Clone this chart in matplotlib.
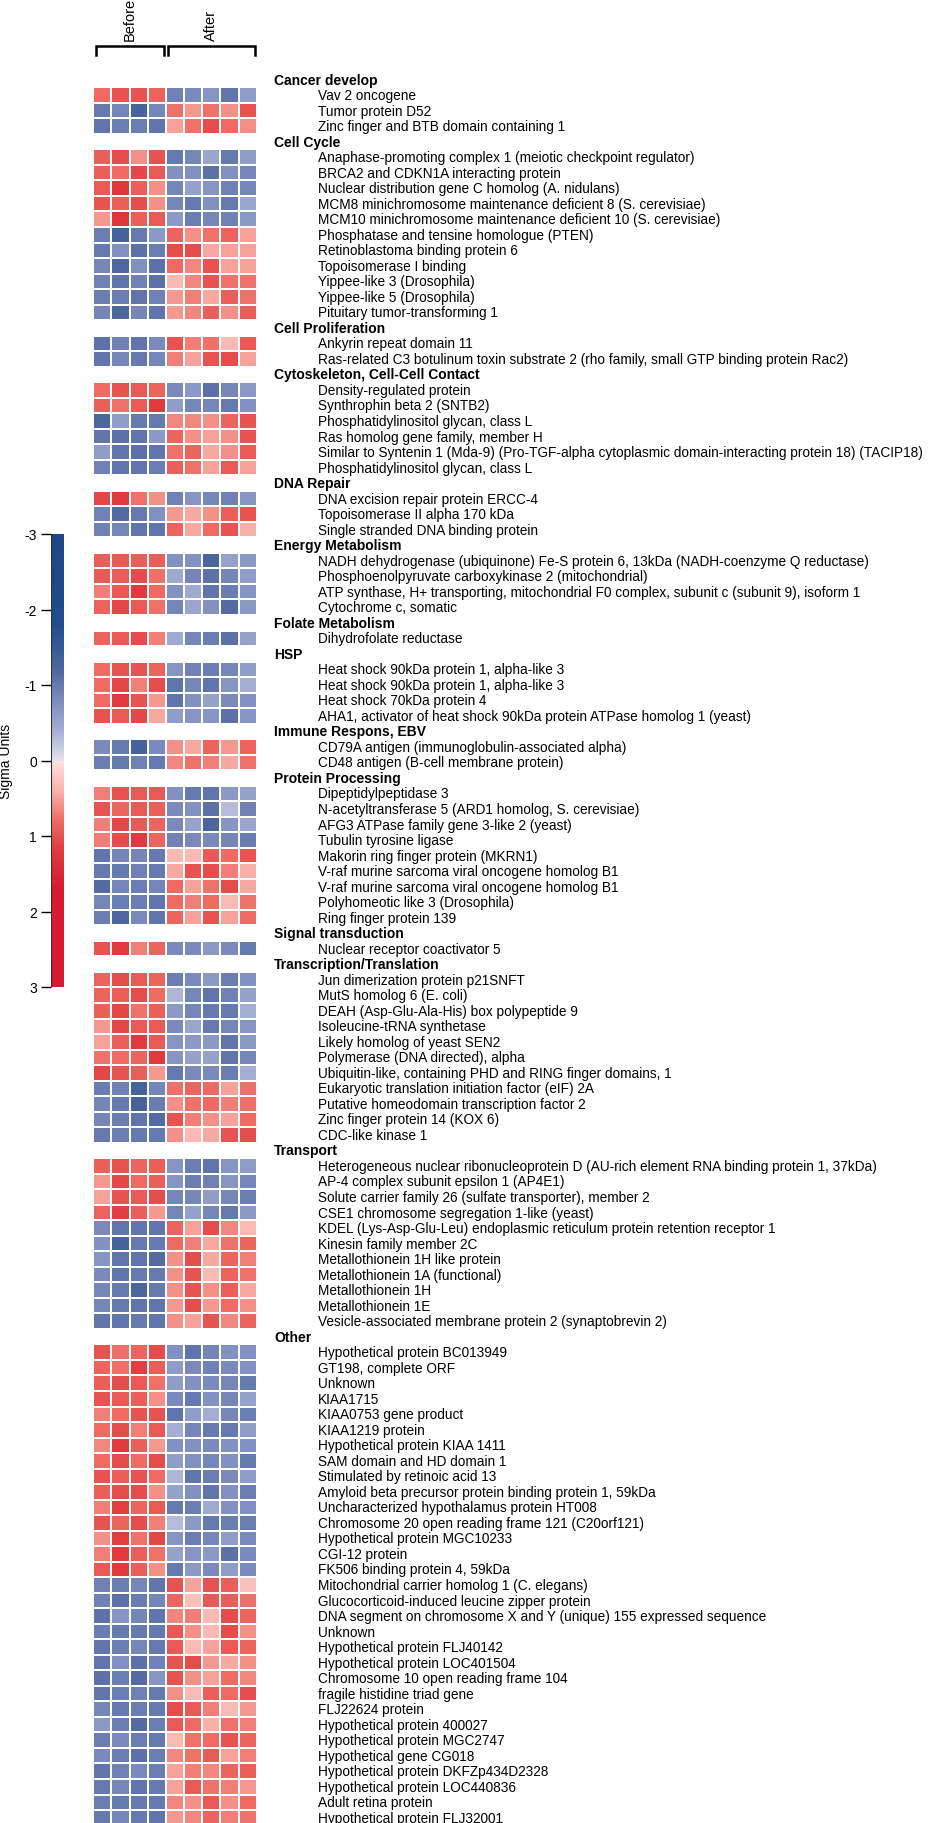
import matplotlib
matplotlib.use("Agg")
import matplotlib.pyplot as plt
import numpy as np
from matplotlib.colors import LinearSegmentedColormap, Normalize
from matplotlib.transforms import blended_transform_factory
from matplotlib.lines import Line2D
import matplotlib.cm as cm

plt.rcParams['font.family'] = ['Liberation Sans', 'DejaVu Sans']

# columns: 4 samples before, 5 after
n_before = 4
n_after = 5

categories = ["Cancer develop", "Cell Cycle", "Cell Proliferation",
              "Cytoskeleton, Cell-Cell Contact", "DNA Repair", "Energy Metabolism",
              "Folate Metabolism", "HSP", "Immune Respons, EBV", "Protein Processing",
              "Signal transduction", "Transcription/Translation", "Transport", "Other"]

cancer_genes = ["Vav 2 oncogene", "Tumor protein D52", "Zinc finger and BTB domain containing 1"]
cancer_vals = [
    [0.8, 1.0, 1.0, 0.85, -0.9, -0.8, -0.7, -1.05, -0.6],
    [-1.0, -0.85, -1.3, -0.85, 0.75, 0.55, 0.75, 0.6, 1.0],
    [-1.05, -0.95, -0.95, -1.05, 0.5, 0.75, 1.05, 0.8, 0.6]]

cycle_genes = ["Anaphase-promoting complex 1 (meiotic checkpoint regulator)",
               "BRCA2 and CDKN1A interacting protein",
               "Nuclear distribution gene C homolog (A. nidulans)",
               "MCM8 minichromosome maintenance deficient 8 (S. cerevisiae)",
               "MCM10 minichromosome maintenance deficient 10 (S. cerevisiae)",
               "Phosphatase and tensine homologue (PTEN)",
               "Retinoblastoma binding protein 6",
               "Topoisomerase I binding",
               "Yippee-like 3 (Drosophila)",
               "Yippee-like 5 (Drosophila)",
               "Pituitary tumor-transforming 1"]
cycle_vals = [
    [0.9, 1.05, 0.6, 1.0, -1.0, -0.85, -0.5, -1.0, -0.6],
    [0.9, 0.8, 1.1, 0.95, -0.75, -0.75, -1.1, -0.75, -0.85],
    [0.95, 1.25, 0.9, 0.6, -0.85, -0.55, -0.7, -0.9, -0.85],
    [1.0, 0.9, 1.05, 0.6, -0.85, -1.0, -0.75, -1.0, -0.5],
    [0.55, 1.25, 0.9, 0.95, -0.65, -0.95, -0.85, -0.9, -0.65],
    [-0.95, -1.3, -1.0, -0.65, 0.85, 0.6, 0.75, 0.85, 0.5],
    [-1.0, -0.75, -1.1, -0.95, 1.05, 1.05, 0.45, 0.5, 0.5],
    [-0.85, -1.2, -0.75, -1.1, 0.8, 0.65, 1.0, 0.5, 0.5],
    [-0.9, -1.05, -0.9, -1.1, 0.35, 0.65, 1.0, 0.75, 0.75],
    [-0.95, -0.95, -1.05, -0.9, 0.55, 0.7, 0.45, 0.9, 0.75],
    [-0.85, -1.2, -0.85, -1.05, 0.55, 0.65, 0.9, 0.6, 0.9]]

prolif_genes = ["Ankyrin repeat domain 11",
                "Ras-related C3 botulinum toxin substrate 2 (rho family, small GTP binding protein Rac2)"]
prolif_vals = [
    [-1.1, -0.9, -1.05, -0.8, 1.0, 0.7, 0.75, 0.35, 0.95],
    [-1.05, -0.85, -1.0, -0.85, 0.7, 0.5, 1.0, 1.05, 0.5]]

cyto_genes = ["Density-regulated protein", "Synthrophin beta 2 (SNTB2)",
              "Phosphatidylinositol glycan, class L", "Ras homolog gene family, member H",
              "Similar to Syntenin 1 (Mda-9) (Pro-TGF-alpha cytoplasmic domain-interacting protein 18) (TACIP18)",
              "Phosphatidylinositol glycan, class L"]
cyto_vals = [
    [0.8, 1.0, 0.95, 0.85, -0.8, -0.65, -1.1, -0.85, -0.65],
    [0.9, 0.75, 0.95, 1.2, -0.6, -0.85, -0.85, -1.0, -0.75],
    [-1.25, -0.6, -1.0, -1.0, 0.65, 0.65, 0.6, 0.85, 1.0],
    [-1.05, -1.1, -1.05, -0.65, 0.85, 0.6, 0.5, 0.6, 1.0],
    [-0.6, -1.05, -1.1, -1.05, 0.75, 0.85, 0.45, 0.6, 0.95],
    [-0.9, -1.05, -1.05, -0.95, 0.9, 0.75, 0.5, 0.95, 0.5]]

dna_genes = ["DNA excision repair protein ERCC-4", "Topoisomerase II alpha 170 kDa",
             "Single stranded DNA binding protein"]
dna_vals = [
    [1.1, 1.2, 0.75, 0.6, -0.9, -0.7, -0.85, -0.9, -0.7],
    [-0.9, -1.15, -1.0, -0.75, 0.55, 0.45, 0.6, 0.9, 1.0],
    [-0.9, -0.85, -1.05, -1.05, 0.85, 0.45, 0.8, 1.0, 0.4]]

energy_genes = ["NADH dehydrogenase (ubiquinone) Fe-S protein 6, 13kDa (NADH-coenzyme Q reductase)",
                "Phosphoenolpyruvate carboxykinase 2 (mitochondrial)",
                "ATP synthase, H+ transporting, mitochondrial F0 complex, subunit c (subunit 9), isoform 1",
                "Cytochrome c, somatic"]
energy_vals = [
    [0.9, 0.95, 0.9, 0.9, -0.75, -0.75, -1.25, -0.55, -0.65],
    [0.95, 0.9, 1.05, 0.75, -0.45, -0.85, -1.1, -0.85, -0.6],
    [0.7, 0.95, 1.2, 0.8, -0.75, -0.45, -1.05, -0.95, -0.7],
    [0.85, 1.1, 0.95, 0.75, -0.85, -0.5, -0.75, -1.15, -0.65]]

folate_genes = ["Dihydrofolate reductase"]
folate_vals = [[0.85, 0.95, 1.05, 0.7, -0.45, -0.85, -0.95, -1.1, -0.55]]

hsp_genes = ["Heat shock 90kDa protein 1, alpha-like 3", "Heat shock 90kDa protein 1, alpha-like 3",
             "Heat shock 70kDa protein 4",
             "AHA1, activator of heat shock 90kDa protein ATPase homolog 1 (yeast)"]
hsp_vals = [
    [0.8, 1.0, 1.0, 0.85, -0.7, -0.9, -0.95, -0.85, -0.6],
    [0.8, 1.1, 0.7, 1.05, -1.05, -0.85, -1.05, -0.7, -0.4],
    [0.8, 1.2, 1.0, 0.55, -1.05, -0.75, -0.55, -0.8, -0.75],
    [1.0, 0.95, 1.1, 0.45, -0.6, -0.7, -0.7, -1.1, -0.7]]

immune_genes = ["CD79A antigen (immunoglobulin-associated alpha)",
                "CD48 antigen (B-cell membrane protein)"]
immune_vals = [
    [-0.8, -1.0, -1.3, -0.8, 0.6, 0.45, 0.85, 0.55, 0.85],
    [-0.95, -1.0, -0.9, -1.0, 0.65, 0.75, 0.7, 0.45, 0.75]]

protein_genes = ["Dipeptidylpeptidase 3", "N-acetyltransferase 5 (ARD1 homolog, S. cerevisiae)",
                 "AFG3 ATPase family gene 3-like 2 (yeast)", "Tubulin tyrosine ligase",
                 "Makorin ring finger protein (MKRN1)",
                 "V-raf murine sarcoma viral oncogene homolog B1",
                 "V-raf murine sarcoma viral oncogene homolog B1",
                 "Polyhomeotic like 3 (Drosophila)", "Ring finger protein 139"]
protein_vals = [
    [0.7, 1.0, 0.95, 0.95, -0.75, -1.0, -1.05, -0.65, -0.55],
    [1.0, 0.85, 0.95, 0.9, -0.8, -0.75, -1.1, -0.3, -0.9],
    [0.7, 1.1, 0.95, 0.85, -0.8, -0.55, -1.25, -0.7, -0.5],
    [0.7, 1.05, 1.2, 0.85, -0.9, -0.8, -0.8, -0.85, -0.95],
    [-1.05, -0.85, -0.85, -1.0, 0.35, 0.35, 0.95, 0.8, 1.0],
    [-1.0, -1.0, -0.9, -1.0, 0.45, 1.0, 1.05, 0.7, 0.4],
    [-1.15, -0.85, -0.95, -0.85, 0.8, 0.5, 0.75, 1.05, 0.45],
    [-0.85, -0.95, -0.95, -1.05, 0.8, 0.7, 0.8, 0.35, 0.75],
    [-0.95, -1.2, -0.8, -1.05, 0.85, 0.5, 1.0, 0.5, 0.8]]

signal_genes = ["Nuclear receptor coactivator 5"]
signal_vals = [[1.0, 1.2, 0.7, 0.85, -0.8, -0.8, -0.65, -0.8, -1.0]]

trans_genes = ["Jun dimerization protein p21SNFT", "MutS homolog 6 (E. coli)",
               "DEAH (Asp-Glu-Ala-His) box polypeptide 9", "Isoleucine-tRNA synthetase",
               "Likely homolog of yeast SEN2", "Polymerase (DNA directed), alpha",
               "Ubiquitin-like, containing PHD and RING finger domains, 1",
               "Eukaryotic translation initiation factor (eIF) 2A",
               "Putative homeodomain transcription factor 2",
               "Zinc finger protein 14 (KOX 6)", "CDC-like kinase 1"]
trans_vals = [
    [0.85, 1.05, 0.95, 0.85, -0.95, -0.8, -0.65, -0.95, -0.75],
    [0.85, 0.9, 1.05, 0.8, -0.35, -0.85, -1.05, -0.9, -0.55],
    [0.9, 1.1, 0.75, 0.9, -0.65, -0.85, -1.0, -1.0, -0.4],
    [0.55, 1.1, 0.95, 0.95, -0.8, -0.5, -1.0, -0.85, -0.7],
    [0.5, 0.9, 1.2, 0.95, -0.7, -0.65, -0.65, -1.05, -0.65],
    [0.75, 0.8, 0.85, 1.2, -0.7, -0.55, -0.55, -1.05, -0.85],
    [1.1, 1.0, 0.9, 0.55, -1.0, -0.8, -0.8, -0.95, -0.4],
    [-0.95, -0.9, -1.3, -0.85, 0.75, 0.85, 0.8, 0.5, 0.75],
    [-0.85, -1.0, -1.3, -0.95, 0.6, 0.75, 0.8, 0.7, 0.75],
    [-0.85, -0.95, -1.05, -1.15, 1.0, 0.7, 0.6, 0.5, 0.8],
    [-1.0, -0.95, -1.0, -1.0, 0.6, 0.35, 0.45, 1.0, 1.05]]

transport_genes = ["Heterogeneous nuclear ribonucleoprotein D (AU-rich element RNA binding protein 1, 37kDa)",
                   "AP-4 complex subunit epsilon 1 (AP4E1)",
                   "Solute carrier family 26 (sulfate transporter), member 2",
                   "CSE1 chromosome segregation 1-like (yeast)",
                   "KDEL (Lys-Asp-Glu-Leu) endoplasmic reticulum protein retention receptor 1",
                   "Kinesin family member 2C", "Metallothionein 1H like protein",
                   "Metallothionein 1A (functional)", "Metallothionein 1H", "Metallothionein 1E",
                   "Vesicle-associated membrane protein 2 (synaptobrevin 2)"]
transport_vals = [
    [0.9, 1.0, 0.85, 0.9, -0.7, -0.95, -1.05, -0.7, -0.6],
    [0.55, 1.1, 0.8, 0.9, -0.7, -0.95, -0.9, -0.7, -0.85],
    [0.5, 1.0, 0.95, 1.05, -0.85, -0.85, -0.6, -0.85, -0.95],
    [0.85, 1.15, 0.9, 0.55, -0.85, -0.55, -0.85, -1.0, -0.65],
    [-0.8, -1.05, -1.05, -1.05, 0.85, 0.5, 1.05, 0.65, 0.35],
    [-0.75, -1.3, -1.0, -1.0, 0.8, 0.7, 0.45, 0.75, 0.85],
    [-0.7, -1.05, -1.05, -1.15, 0.6, 1.05, 0.45, 0.85, 0.7],
    [-0.8, -1.05, -1.0, -1.0, 0.6, 1.0, 0.35, 0.85, 0.75],
    [-0.85, -1.0, -1.25, -1.0, 0.6, 1.0, 0.6, 0.9, 0.45],
    [-0.85, -1.0, -1.05, -1.05, 0.55, 1.05, 0.55, 0.8, 0.6],
    [-1.05, -1.05, -1.0, -1.05, 0.6, 0.5, 1.0, 0.65, 0.85]]

other_genes = ["Hypothetical protein BC013949", "GT198, complete ORF", "Unknown", "KIAA1715",
               "KIAA0753 gene product", "KIAA1219 protein", "Hypothetical protein KIAA 1411",
               "SAM domain and HD domain 1", "Stimulated by retinoic acid 13",
               "Amyloid beta precursor protein binding protein 1, 59kDa",
               "Uncharacterized hypothalamus protein HT008",
               "Chromosome 20 open reading frame 121 (C20orf121)",
               "Hypothetical protein MGC10233", "CGI-12 protein", "FK506 binding protein 4, 59kDa",
               "Mitochondrial carrier homolog 1 (C. elegans)",
               "Glucocorticoid-induced leucine zipper protein",
               "DNA segment on chromosome X and Y (unique) 155 expressed sequence",
               "Unknown", "Hypothetical protein FLJ40142", "Hypothetical protein LOC401504",
               "Chromosome 10 open reading frame 104", "fragile histidine triad gene",
               "FLJ22624 protein", "Hypothetical protein 400027", "Hypothetical protein MGC2747",
               "Hypothetical gene CG018", "Hypothetical protein DKFZp434D2328",
               "Hypothetical protein LOC440836", "Adult retina protein",
               "Hypothetical protein FLJ32001"]
other_vals = [
    [1.0, 0.75, 0.85, 1.05, -0.75, -1.05, -0.85, -0.75, -0.75],
    [0.85, 0.75, 1.15, 0.9, -0.6, -0.8, -0.9, -0.8, -0.75],
    [0.9, 1.05, 0.95, 0.75, -0.6, -0.75, -0.8, -0.85, -1.0],
    [1.0, 0.95, 0.9, 0.6, -0.8, -1.0, -0.75, -0.85, -0.55],
    [0.7, 0.8, 1.0, 1.0, -1.05, -0.6, -0.4, -0.85, -0.95],
    [0.8, 1.05, 0.7, 0.95, -0.4, -0.85, -1.0, -1.0, -0.6],
    [0.65, 1.2, 0.9, 0.55, -0.75, -0.75, -0.8, -0.75, -0.75],
    [0.8, 1.05, 0.8, 1.05, -0.6, -0.75, -0.85, -0.75, -1.0],
    [1.0, 0.9, 1.0, 0.8, -0.35, -1.05, -0.95, -0.8, -0.6],
    [0.9, 1.05, 1.05, 0.6, -0.55, -0.75, -1.05, -0.75, -0.95],
    [0.7, 1.15, 0.85, 0.95, -1.0, -0.95, -0.45, -0.75, -0.75],
    [1.0, 0.85, 1.05, 0.7, -0.3, -0.65, -1.0, -0.95, -0.95],
    [0.6, 1.15, 0.75, 1.1, -0.7, -0.95, -0.85, -0.6, -0.8],
    [0.7, 1.2, 0.9, 0.75, -0.55, -0.7, -0.65, -1.1, -0.8],
    [0.95, 1.2, 0.9, 0.6, -1.0, -0.65, -0.8, -0.6, -0.8],
    [-0.9, -0.95, -0.85, -1.05, 1.0, 0.5, 1.0, 0.9, 0.3],
    [-0.9, -1.1, -0.95, -0.85, 0.85, 0.3, 0.95, 0.9, 0.75],
    [-1.1, -0.7, -0.85, -1.05, 0.65, 0.7, 0.35, 1.05, 0.85],
    [-0.95, -1.0, -1.0, -1.0, 0.95, 0.6, 0.35, 1.05, 0.6],
    [-1.05, -0.95, -0.85, -1.0, 0.95, 0.35, 0.5, 0.95, 0.85],
    [-1.05, -0.75, -1.1, -0.9, 1.0, 1.05, 0.55, 0.45, 0.6],
    [-1.1, -0.95, -1.15, -0.7, 1.0, 0.6, 0.5, 0.8, 0.65],
    [-1.05, -0.95, -0.9, -1.0, 0.6, 0.35, 0.9, 0.8, 1.05],
    [-0.85, -1.0, -0.95, -1.0, 1.05, 0.95, 0.7, 0.35, 0.55],
    [-0.65, -0.95, -1.15, -0.95, 0.95, 0.8, 0.4, 0.75, 0.7],
    [-0.95, -0.8, -0.95, -1.0, 0.35, 0.75, 0.8, 1.0, 0.85],
    [-0.8, -0.95, -1.1, -0.95, 0.65, 0.75, 0.95, 0.5, 0.7],
    [-1.05, -0.9, -0.8, -0.95, 0.5, 0.7, 0.65, 0.85, 0.9],
    [-1.0, -0.85, -1.05, -1.0, 0.5, 0.95, 0.75, 0.7, 0.55],
    [-0.95, -1.0, -1.0, -1.0, 0.65, 0.6, 0.95, 0.6, 0.8],
    [-1.0, -0.85, -1.0, -1.05, 0.55, 0.65, 0.85, 0.7, 0.75]]

gene_groups = [cancer_genes, cycle_genes, prolif_genes, cyto_genes, dna_genes, energy_genes,
               folate_genes, hsp_genes, immune_genes, protein_genes, signal_genes, trans_genes,
               transport_genes, other_genes]
val_groups = [cancer_vals, cycle_vals, prolif_vals, cyto_vals, dna_vals, energy_vals,
              folate_vals, hsp_vals, immune_vals, protein_vals, signal_vals, trans_vals,
              transport_vals, other_vals]

# build matrix: one empty row per category header
rows = []
labels = []  # (text, is_header)
for cat, gl, vl in zip(categories, gene_groups, val_groups):
    rows.append([np.nan] * (n_before + n_after))
    labels.append((cat, True))
    for g, v in zip(gl, vl):
        rows.append(v)
        labels.append((g, False))
mat = np.ma.masked_invalid(np.array(rows, dtype=float))
nrows = mat.shape[0]

cmap = LinearSegmentedColormap.from_list("sigma", [
    (0.0, "#1c4584"), (0.2, "#1f4c8e"), (0.3, "#50689f"), (0.37, "#7d8dbf"),
    (0.44, "#aab3d6"), (0.4999, "#e4e4ee"), (0.5001, "#fde4e2"), (0.57, "#f8b0a8"),
    (0.633, "#ee6c64"), (0.7, "#e03a3e"), (0.78, "#d81b30"), (1.0, "#d81b35")])
norm = Normalize(-3, 3)

W, H = 930, 1824
fig = plt.figure(figsize=(W / 100, H / 100), dpi=100)

pitch = 15.52
top = 72.8
x0, x1 = 93.3, 256.7
ax = fig.add_axes([x0 / W, 1 - (top + nrows * pitch) / H, (x1 - x0) / W, nrows * pitch / H])
ax.pcolormesh(np.arange(n_before + n_after + 1), np.arange(nrows + 1), mat, cmap=cmap,
              norm=norm, edgecolors="white", linewidth=1.2)
ax.set_xlim(0, n_before + n_after)
ax.set_ylim(nrows, 0)
ax.axis("off")

tr = blended_transform_factory(fig.transFigure, ax.transData)
for i, (txt, hdr) in enumerate(labels):
    if hdr:
        ax.text(274 / W, i + 0.5, txt, transform=tr, fontsize=10, fontweight="bold",
                va="center", ha="left")
    else:
        ax.text(318 / W, i + 0.5, txt, transform=tr, fontsize=9.8, va="center", ha="left")

# brackets for Before / After
trb = blended_transform_factory(ax.transData, fig.transFigure)
yb = 1 - 46.7 / H
yl = 1 - 55.5 / H
for a, b, name in [(0.15, n_before - 0.1, "Before"),
                   (n_before + 0.1, n_before + n_after - 0.1, "After")]:
    fig.add_artist(Line2D([a, a, b, b], [yl, yb, yb, yl], transform=trb, color="black",
                          lw=1.8, solid_joinstyle="miter"))
    fig.text((a + b) / 2, 1 - 41 / H, name, transform=trb, rotation=90, fontsize=10.5,
             ha="center", va="bottom")

# colorbar
cax = fig.add_axes([51 / W, 1 - 988 / H, 13 / W, 453 / H])
cb = fig.colorbar(cm.ScalarMappable(norm=norm, cmap=cmap), cax=cax, ticks=[-3, -2, -1, 0, 1, 2, 3])
cb.outline.set_visible(False)
cax.invert_yaxis()
cax.yaxis.set_ticks_position("left")
cax.yaxis.set_label_position("left")
cb.ax.set_yticklabels(["-3", "-2", "-1", "0", "1", "2", "3"])
cax.tick_params(axis="y", length=7, width=1, labelsize=10, pad=3)
cax.axvline(0, color="#333333", lw=0.8)
cb.set_label("Sigma Units", fontsize=10)
cax.yaxis.set_label_coords(-2.95, 0.5)

fig.savefig("out.png", dpi=100)
